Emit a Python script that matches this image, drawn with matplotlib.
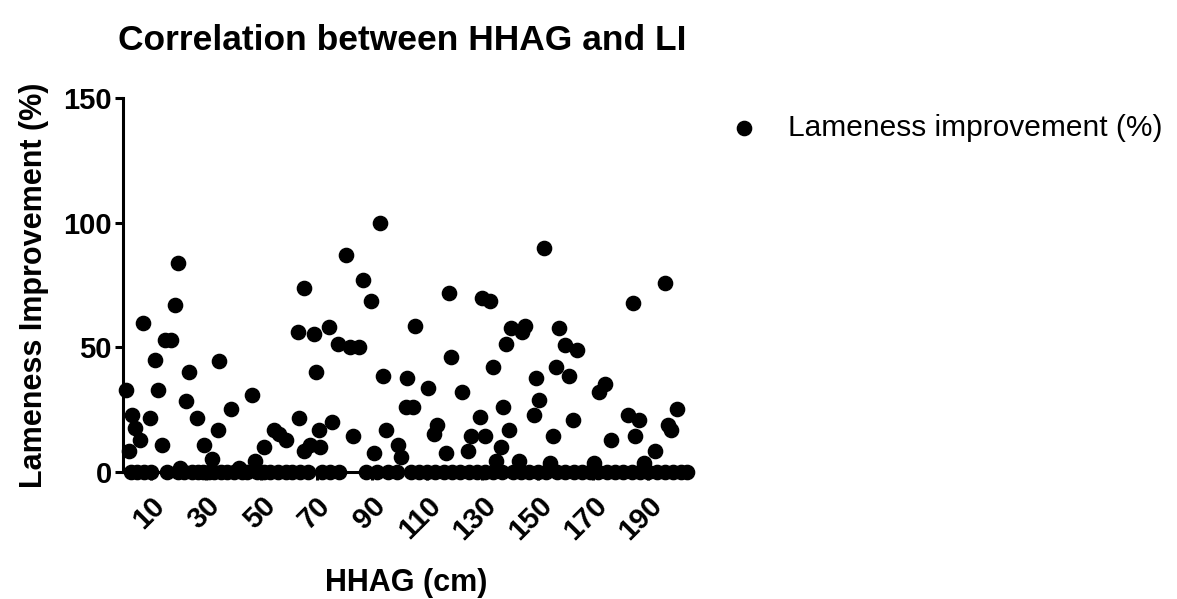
import numpy as np
import matplotlib
matplotlib.use("Agg")
import matplotlib.pyplot as plt

plt.rcParams['font.family'] = ['Liberation Sans', 'DejaVu Sans']

# points (non-zero improvement)
hhag_pos = [1.1, 2.2, 3.3, 4.4, 6.0, 7.1, 9.8, 11.5, 12.6, 14.0, 15.3, 17.4, 18.8, 19.9,
            20.7, 24.0, 22.9, 26.7, 29.4, 32.1, 34.3, 34.8, 39.0, 42.0, 46.5, 47.9, 50.9,
            54.7, 56.4, 58.8, 63.2, 63.7, 65.3, 65.6, 67.8, 69.2, 69.7, 70.8, 71.4, 74.6,
            75.7, 77.8, 80.6, 82.0, 83.3, 85.5, 86.8, 89.6, 90.9, 92.8, 93.9, 95.0, 99.6,
            100.4, 102.6, 102.3, 104.8, 105.6, 110.5, 112.4, 113.5, 116.8, 117.9, 118.7,
            122.8, 124.7, 125.8, 129.0, 129.8, 130.9, 132.8, 133.9, 135.0, 136.6, 137.4,
            138.5, 139.6, 140.4, 143.1, 144.2, 145.3, 148.6, 149.4, 150.3, 152.4, 154.6,
            155.7, 156.8, 157.6, 160.0, 161.4, 162.8, 164.1, 170.4, 172.3, 174.2, 176.4,
            182.6, 184.5, 185.1, 186.5, 188.6, 192.4, 196.2, 197.3, 198.4, 200.3]
li_pos = [33, 8.5, 23, 17.7, 13, 60, 21.5, 45, 33, 11, 53, 53, 67, 84,
          1.5, 40, 28.5, 21.5, 11, 5.4, 17, 44.6, 25.4, 1.5, 30.8, 4.6, 10,
          17, 15.4, 13, 56, 21.5, 8.5, 74, 11, 55.4, 40, 17, 10, 58,
          20, 51.5, 87, 50, 14.6, 50, 77, 68.5, 7.7, 100, 38.5, 17, 11,
          6, 37.7, 26, 26, 58.5, 33.8, 15.4, 19, 7.7, 72, 46,
          32, 8.5, 14.6, 22, 70, 14.6, 68.5, 42.3, 4.6, 10, 26,
          51.5, 17, 57.7, 4.6, 56, 58.5, 23, 37.7, 29, 90, 3.8,
          14.6, 42.3, 57.7, 50.8, 38.5, 20.8, 49, 3.8, 32.3, 35.4, 13,
          23, 67.7, 14.6, 20.8, 3.8, 8.5, 76, 19, 17, 25.4]

# points sitting on the baseline (0 %)
hhag_zero = [3, 5, 7.5, 10, 16, 20, 22, 25, 27, 29, 31, 33, 35.5, 37.5, 40, 43, 45,
             48.5, 51, 53, 56, 59, 61, 64, 67, 72, 75, 78, 88, 92, 96, 99, 104, 107,
             110, 113, 116, 119, 122, 125, 128, 131, 134, 137, 141, 144, 147, 150, 153,
             157, 160, 163, 166, 169, 172, 175, 178, 181, 184, 187, 190, 193, 196, 199,
             202, 204]

hhag = hhag_pos + hhag_zero
li = li_pos + [0] * len(hhag_zero)

x_ticks = [10, 30, 50, 70, 90, 110, 130, 150, 170, 190]
y_ticks = [0, 50, 100, 150]

fig = plt.figure(figsize=(11.77, 5.99), dpi=100)
ax = fig.add_axes([0.1045, 0.212, 0.4815, 0.624])

ax.scatter(hhag, li, s=105, color='black', clip_on=False, zorder=3,
           label='Lameness improvement (%)')

ax.set_xlim(0, 205)
ax.set_ylim(0, 150)
ax.set_xticks(x_ticks)
ax.set_yticks(y_ticks)
for side in ['top', 'right']:
    ax.spines[side].set_visible(False)
for side in ['left', 'bottom']:
    ax.spines[side].set_linewidth(2.2)
ax.tick_params(width=2.2, length=6, labelsize=21)
ax.tick_params(axis='x', pad=8)
ax.tick_params(axis='y', pad=2)
for lab in ax.get_xticklabels() + ax.get_yticklabels():
    lab.set_fontweight('bold')
plt.setp(ax.get_xticklabels(), rotation=45, ha='right', rotation_mode='anchor')

ax.set_xlabel('HHAG (cm)', fontsize=22, fontweight='bold', labelpad=16)
ax.set_ylabel('Lameness Improvement (%)', fontsize=22, fontweight='bold', labelpad=10)
fig.text(0.1, 0.933, 'Correlation between HHAG and LI', fontsize=25.5,
         fontweight='bold', va='center', ha='left')

ax.legend(loc='upper left', bbox_to_anchor=(1.054, 0.99), frameon=False,
          fontsize=21.5, handlelength=0.8, handletextpad=1.07, borderaxespad=0.0)

plt.savefig('out.png', dpi=100)
